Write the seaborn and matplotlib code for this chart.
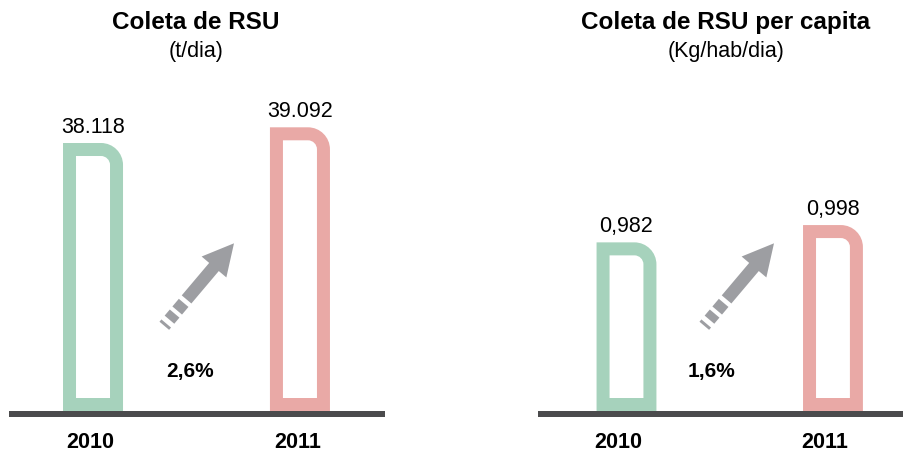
import numpy as np
import pandas as pd
import matplotlib
matplotlib.use("Agg")
import matplotlib.pyplot as plt
import seaborn as sns
from matplotlib.path import Path
from matplotlib.patches import PathPatch, Polygon
from matplotlib.lines import Line2D

# ---------------- data ----------------
years = ["2010", "2011"]
coleta_t_dia = [38118, 39092]
coleta_per_capita = [0.982, 0.998]
titles = ["Coleta de RSU", "Coleta de RSU per capita"]
units = ["(t/dia)", "(Kg/hab/dia)"]
bar_colors = ["#A6D2BC", "#E9A9A6"]

# ---------------- style ----------------
sns.set_theme(style="white")
plt.rcParams["font.family"] = ["Liberation Sans", "DejaVu Sans"]

W, H = 904, 452
fig = plt.figure(figsize=(W / 100, H / 100), dpi=100)
fig.patch.set_facecolor("white")


def px_axes(x0, x1, ybot, ytop):
    return fig.add_axes([x0 / W, 1 - ybot / H, (x1 - x0) / W, (ybot - ytop) / H])


def fig_xy(x, y):
    return x / W, 1 - y / H


def outline_path(x0, y0, x1, y1, R, t):
    k = 0.5523
    r = R - t
    M, L, C, Z = Path.MOVETO, Path.LINETO, Path.CURVE4, Path.CLOSEPOLY
    verts = [(x0, y0), (x1, y0), (x1, y1 - R), (x1, y1 - R + k * R),
             (x1 - R + k * R, y1), (x1 - R, y1), (x0, y1), (x0, y0)]
    codes = [M, L, L, C, C, C, L, Z]
    ix0, iy0, ix1, iy1 = x0 + t, y0 + t, x1 - t, y1 - t
    verts += [(ix0, iy0), (ix0, iy1), (ix1 - r, iy1), (ix1 - r + k * r, iy1),
              (ix1, iy1 - r + k * r), (ix1, iy1 - r), (ix1, iy0), (ix0, iy0)]
    codes += [M, L, L, C, C, C, L, Z]
    return np.array(verts, dtype=float), codes


def panel(ax, values, labels, xlim, ylim, year_dx):
    df = pd.DataFrame({"ano": years, "valor": values})
    sns.barplot(data=df, x="ano", y="valor", hue="ano", palette=bar_colors,
                saturation=1, width=0.29, errorbar=None, legend=False, ax=ax)
    ax.set_xlim(*xlim)
    ax.set_ylim(*ylim)
    for s in ax.spines.values():
        s.set_visible(False)
    ax.set_yticks([])
    ax.set_xlabel("")
    ax.set_ylabel("")
    ax.set_xticklabels([])
    ax.tick_params(axis="x", length=0)
    ax.patch.set_alpha(0)

    ybot = ylim[0]
    for p, lab in zip(list(ax.patches), labels):
        x0 = p.get_x()
        x1 = x0 + p.get_width()
        top = p.get_y() + p.get_height()
        color = p.get_facecolor()
        p.set_visible(False)
        d0 = ax.transData.transform((x0, ybot))
        d1 = ax.transData.transform((x1, top))
        verts, codes = outline_path(d0[0], d0[1], d1[0], d1[1], 22, 13)
        verts_data = ax.transData.inverted().transform(verts)
        ax.add_patch(PathPatch(Path(verts_data, codes), facecolor=color,
                               edgecolor="none", clip_on=False, zorder=2))
        ax.annotate(lab, xy=((x0 + x1) / 2, top), xytext=(0, 8),
                    textcoords="offset points", ha="center", va="baseline",
                    fontsize=15.5, color="#000000", annotation_clip=False)

    for i, y in enumerate(years):
        ax.annotate(y, xy=(i, 0), xycoords=("data", "axes fraction"),
                    xytext=(year_dx * 0.72, -36 * 0.72), textcoords="offset points",
                    ha="center", va="baseline", fontsize=15.5,
                    fontweight="bold", color="#000000", annotation_clip=False)


def pct_label(values):
    pct = (values[1] / values[0] - 1) * 100
    return f"{pct:.1f}%".replace(".", ",")


def draw_arrow(tip_x, tip_y, color="#9D9EA2"):
    theta = np.deg2rad(49.8)
    d = np.array([np.cos(theta), np.sin(theta)])
    n = np.array([-np.sin(theta), np.cos(theta)])
    L = 108.0
    hw, HW = 6.3, 16.2
    tip = np.array([tip_x, H - tip_y])

    def pt(u, v):
        p = tip + (u - L) * d + v * n
        return (p[0] / W, p[1] / H)

    for u0, u1 in [(0, 3), (8, 16), (20, 30)]:
        poly = [pt(u0, -hw), pt(u1, -hw), pt(u1, hw), pt(u0, hw)]
        fig.patches.append(Polygon(poly, closed=True, facecolor=color,
                                   edgecolor="none", transform=fig.transFigure))
    body = [pt(34.5, -hw), pt(77, -hw), pt(77, -HW), pt(L, 0),
            pt(77, HW), pt(77, hw), pt(34.5, hw)]
    fig.patches.append(Polygon(body, closed=True, facecolor=color,
                               edgecolor="none", transform=fig.transFigure))


# ---------------- panels ----------------
ax1 = px_axes(9, 385, 412, 80)
ax2 = px_axes(538, 904, 412, 80)

lab1 = [f"{v:,.0f}".replace(",", ".") for v in coleta_t_dia]
lab2 = [f"{v:.3f}".replace(".", ",") for v in coleta_per_capita]

panel(ax1, coleta_t_dia, lab1, (-0.406, 1.411), (21493, 21493 + 332 / 0.01612), -2.5)
panel(ax2, coleta_per_capita, lab2, (-0.4286, 1.344), (0.826, 0.826 + 332 / 1081), -8)

# baselines
for xa, xb in [(9, 385), (538, 904)]:
    fig.lines.append(Line2D([xa / W, xb / W], [1 - 415 / H, 1 - 415 / H],
                            transform=fig.transFigure, color="#4B4B4D",
                            linewidth=6 * 0.72, solid_capstyle="butt"))

# titles
for cx, t, u in [(196, titles[0], units[0]), (726, titles[1], units[1])]:
    fig.text(*fig_xy(cx, 29), t, ha="center", va="baseline", fontsize=17.5,
             fontweight="bold", color="#000000")
    fig.text(*fig_xy(cx, 57), u, ha="center", va="baseline", fontsize=15.5,
             color="#000000")

# arrows & growth labels
draw_arrow(234, 244.3)
draw_arrow(774, 244.3)
fig.text(*fig_xy(190.5, 377), pct_label(coleta_t_dia), ha="center", va="baseline",
         fontsize=15, fontweight="bold", color="#000000")
fig.text(*fig_xy(712, 377), pct_label(coleta_per_capita), ha="center", va="baseline",
         fontsize=15, fontweight="bold", color="#000000")

fig.savefig("out.png", dpi=100, facecolor="white")
